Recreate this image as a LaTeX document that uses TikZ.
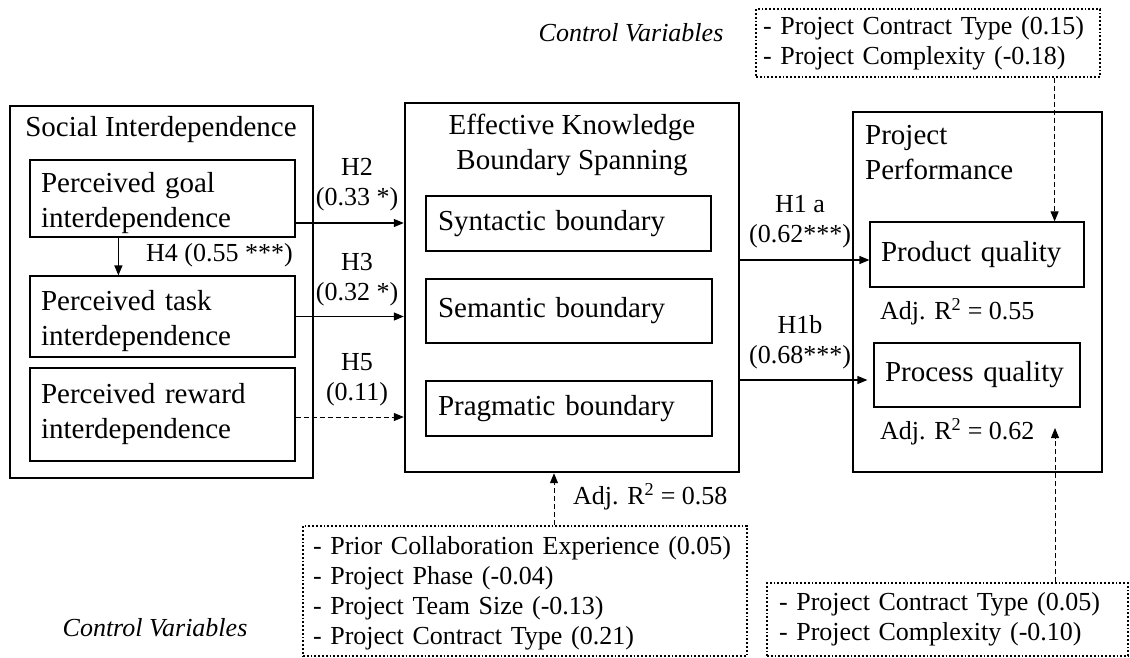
\documentclass[tikz,border=0pt]{standalone}
\usepackage{fontspec}
\setmainfont{Liberation Serif}
\usetikzlibrary{arrows.meta}

\newcommand\boxfont{\fontsize{29}{35}\selectfont}
\newcommand\labfont{\fontsize{26}{30}\selectfont}
\newcommand\adjr[1]{Adj. R\textsuperscript{2} = #1}

\tikzset{
  bigbox/.style={draw, line width=2.4pt, inner sep=0pt},
  subbox/.style={draw, line width=1.2pt, inner xsep=11pt, align=left, font=\boxfont},
  ctrlbox/.style={draw, dotted, line width=1.8pt, inner xsep=10pt, align=left, font=\labfont},
  hlab/.style={font=\labfont, align=center, inner sep=0pt},
  arr/.style={line width=1.2pt, -{Triangle[length=10pt,width=8pt]}},
  dasharr/.style={arr, line width=1pt, dash pattern=on 5pt off 3pt}
}

\begin{document}
\begin{tikzpicture}[x=1pt,y=-1pt]
\useasboundingbox (0,0) rectangle (1130,657);

% social interdependence
\node[bigbox, minimum width=303pt, minimum height=372pt] (social) at (161.5,292) {};
\node[font=\boxfont] (socialtitle) at (161,130) {Social Interdependence};
\node[subbox, text width=243pt, minimum height=77pt] (goal) at (162.5,198.5) {\\[-6pt]Perceived goal\\interdependence};
\node[subbox, text width=243pt, minimum height=81pt] (task) at (162.5,316.5) {\\[-6pt]Perceived task\\interdependence};
\node[subbox, text width=243pt, minimum height=93pt] (reward) at (162.5,414.5) {Perceived reward\\interdependence};

% knowledge boundary spanning
\node[bigbox, minimum width=334pt, minimum height=369pt] (ekbs) at (572,287.5) {};
\node[font=\boxfont, align=center] (ekbstitle) at (572,144.5) {Effective Knowledge\\Boundary Spanning};
\node[subbox, inner xsep=12pt, text width=261pt, minimum height=55pt] (syntactic) at (568.5,223.5) {Syntactic boundary};
\node[subbox, inner xsep=12pt, text width=262pt, minimum height=64pt] (semantic) at (569,311) {Semantic boundary\\[4pt]};
\node[subbox, inner xsep=12pt, text width=262pt, minimum height=55pt] (pragmatic) at (569,408.5) {Pragmatic boundary};

% project performance
\node[bigbox, minimum width=249pt, minimum height=360pt] (perf) at (977.5,292) {};
\node[font=\boxfont, align=left, anchor=west, inner sep=0pt] (perftitle) at (865,153) {Project\\Performance};
\node[subbox, text width=192pt, minimum height=65pt] (product) at (977,254.5) {Product quality};
\node[subbox, text width=184pt, minimum height=64pt] (process) at (977,375) {Process quality};
\node[hlab, anchor=west] (r2prod) at (880,312) {\adjr{0.55}};
\node[hlab, anchor=west] (r2proc) at (880,432) {\adjr{0.62}};

% control variables
\node[font=\labfont\itshape] (ctrltoplab) at (631,33) {Control Variables};
\node[ctrlbox, inner xsep=7pt, text width=330pt, minimum height=68pt] (ctrltop) at (928,43) {- Project Contract Type (0.15)\\- Project Complexity (-0.18)};
\node[font=\labfont\itshape] (ctrlbotlab) at (155,628) {Control Variables};
\node[ctrlbox, text width=424pt, minimum height=130pt] (ctrlmid) at (525,591) {\\[-8pt]- Prior Collaboration Experience (0.05)\\- Project Phase (-0.04)\\- Project Team Size (-0.13)\\- Project Contract Type (0.21)};
\node[ctrlbox, inner xsep=12pt, text width=337pt, minimum height=73pt] (ctrlright) at (947.5,619.5) {- Project Contract Type (0.05)\\- Project Complexity (-0.10)};
\node[hlab, anchor=west] (r2ekbs) at (573,497) {\adjr{0.58}};
\coordinate (proctip) at (1055,428);

% hypotheses
\draw[arr] ([xshift=89pt]goal.south west) -- ([xshift=89pt]task.north west);
\node[hlab, anchor=west] (h4) at (146,255) {H4 (0.55 ***)};

\draw[arr] ([yshift=-24.5pt]goal.east) -- ([yshift=-24.5pt]goal.east -| ekbs.west);
\draw[arr] (task.east) -- (task.east -| ekbs.west);
\draw[dasharr] ([yshift=-2.5pt]reward.east) -- ([yshift=-2.5pt]reward.east -| ekbs.west);
\node[hlab] (h2) at (357,185) {H2\\(0.33 *)};
\node[hlab] (h3) at (357,279.5) {H3\\(0.32 *)};
\node[hlab] (h5) at (357,380) {H5\\(0.11)};

\draw[arr] ([yshift=-5.5pt]product.west -| ekbs.east) -- ([yshift=-5.5pt]product.west);
\draw[arr] ([yshift=-5pt]process.west -| ekbs.east) -- ([xshift=-6pt,yshift=-5pt]process.west);
\node[hlab] (h1a) at (800,222) {H1 a\\(0.62***)};
\node[hlab] (h1b) at (800,342) {H1b\\(0.68***)};

% control paths
\draw[dasharr] ([xshift=-30pt]product.north east |- ctrltop.south) -- ([xshift=-30pt]product.north east);
\draw[dasharr] ([xshift=-18pt]ekbs.south |- ctrlmid.north) -- ([xshift=-18pt]ekbs.south);
\draw[dasharr] (proctip |- ctrlright.north) -- (proctip);
\end{tikzpicture}
\end{document}
